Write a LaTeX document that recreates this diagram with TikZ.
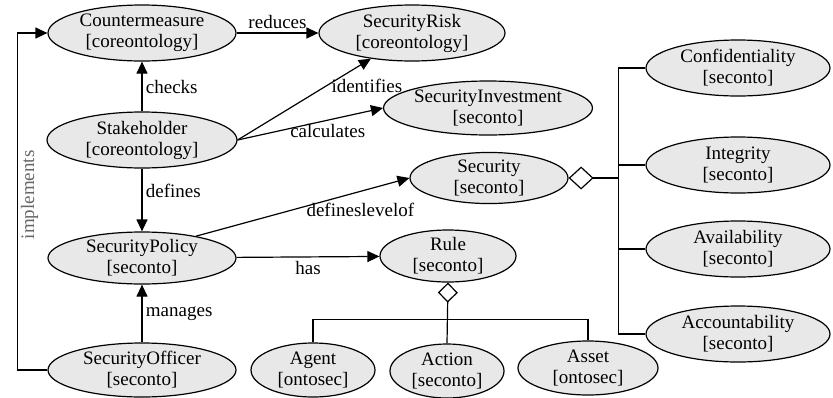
\documentclass[tikz,border=0pt]{standalone}
\usepackage{fontspec}
\setmainfont{Liberation Serif}
\usetikzlibrary{arrows.meta}
\usetikzlibrary{shapes.geometric}

\tikzset{
  concept/.style={ellipse, draw, fill=gray!18, line width=1.2pt, inner sep=0pt,
                  minimum height=54pt, align=center},
  rel/.style={line width=1.2pt, -{Triangle[length=12pt,width=11pt]}},
  part/.style={line width=1.2pt},
}

\begin{document}
\begin{tikzpicture}[x=1pt,y=-1pt,font=\fontsize{19}{21}\selectfont]

\useasboundingbox (0,0) rectangle (833,397);

% concepts
\node[concept, minimum width=188pt, minimum height=56pt] (counter) at (142,33) {Countermeasure\\{}[coreontology]};
\node[concept, minimum width=186pt, minimum height=56pt] (risk) at (412,33) {SecurityRisk\\{}[coreontology]};
\node[concept, minimum width=190pt, minimum height=56pt] (stake) at (142,140) {Stakeholder\\{}[coreontology]};
\node[concept, minimum width=208pt] (invest) at (488,108) {SecurityInvestment\\{}[seconto]};
\node[concept, minimum width=158pt, minimum height=48pt] (sec) at (489,178) {Security\\{}[seconto]};
\node[concept, minimum width=188pt, minimum height=52pt] (policy) at (142,258) {SecurityPolicy\\{}[seconto]};
\node[concept, minimum width=136pt, minimum height=52pt] (rule) at (448,256) {Rule\\{}[seconto]};
\node[concept, minimum width=188pt] (officer) at (142,370) {SecurityOfficer\\{}[seconto]};

\node[concept, minimum width=124pt] (agent) at (313,370) {Agent\\{}[ontosec]};
\node[concept, minimum width=114pt] (action) at (447,371) {Action\\{}[seconto]};
\node[concept, minimum width=140pt] (asset) at (588,368) {Asset\\{}[ontosec]};

\node[concept, minimum width=184pt, minimum height=56pt] (conf) at (738,68) {Confidentiality\\{}[seconto]};
\node[concept, minimum width=184pt, minimum height=56pt] (integ) at (738,165) {Integrity\\{}[seconto]};
\node[concept, minimum width=184pt, minimum height=56pt] (avail) at (738,249) {Availability\\{}[seconto]};
\node[concept, minimum width=184pt, minimum height=56pt] (acc) at (738,334) {Accountability\\{}[seconto]};

% relations
\draw[rel] (counter) -- (risk) node[midway, above]{reduces};
\draw[rel] (stake) -- (counter) node[midway, right]{checks};
\draw[rel] (stake.east) -- (risk.212) node[pos=0.66, right=2pt]{identifies};
\draw[rel] (stake.east) -- (invest.west) node[pos=0.62, below]{calculates};
\draw[rel] (stake) -- (policy) node[pos=0.35, right]{defines};
\draw[rel] (policy.22) -- (sec.west) node[pos=0.77, below=8pt]{defineslevelof};
\draw[rel] (policy) -- (rule) node[midway, below]{has};
\draw[rel] (officer) -- (policy) node[midway, right]{manages};
\draw[rel] (officer.west) -- ++(-30,0) |- (counter.west)
  node[pos=0.26, rotate=90, anchor=north, text=gray!80!black, inner sep=3pt]{implements};

% aggregation of Security
\draw[part, {Diamond[open,length=25pt,width=23pt]}-] (sec.east) -- ++(50,0) coordinate (secbus);
\draw[part] (conf.west) -- (secbus |- conf.west) -- (secbus |- acc.west) -- (acc.west);
\draw[part] (integ.west) -- (secbus |- integ.west);
\draw[part] (avail.west) -- (secbus |- avail.west);

% aggregation of Rule
\draw[part, {Diamond[open,length=20pt,width=20pt]}-] (rule.south) -- (action.north);
\path (rule.south) ++(0,37) coordinate (rulebus);
\draw[part] (agent.north) -- (agent.north |- rulebus) -- (asset.north |- rulebus) -- (asset.north);

\end{tikzpicture}
\end{document}
